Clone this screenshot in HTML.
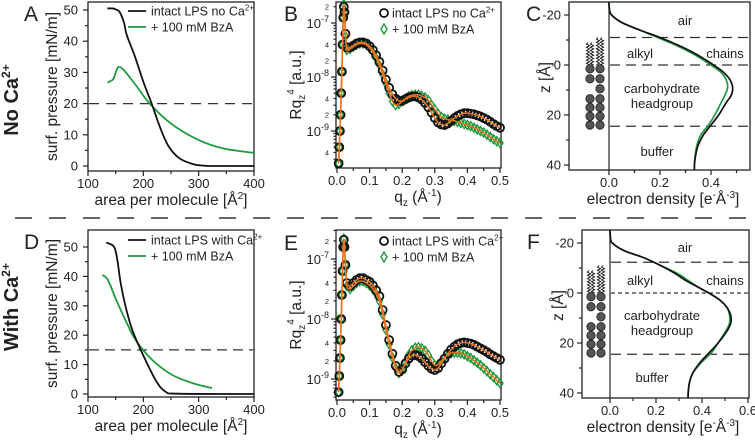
<!DOCTYPE html>
<html><head><meta charset="utf-8">
<style>
html,body{margin:0;padding:0;background:#fff;}
svg{display:block;font-family:"Liberation Sans",Arial,sans-serif;}
</style></head>
<body>
<svg id="fig" width="755" height="442" viewBox="0 0 755 442" xmlns="http://www.w3.org/2000/svg"></svg>
<script>
// ---------- Data ----------
// Panel A isotherms
const aAreaBlack=[135,145,150,157,165,170,185,200,215,230,245,265,290,310,330,400];
const aPiBlack=[50.5,50.5,50.2,49.4,46,42,35,27,20,12.5,6.5,2.5,0.6,0.1,0,0];
const aAreaGreen=[136,138,146,151,156,166,186,212,250,300,345,400];
const aPiGreen=[26.6,27.0,27.9,30.5,31.8,30.5,26,19.9,13.6,8.3,5.6,4.2];
const aDashed=[20];
// Panel D isotherms
const dAreaBlack=[133,147,153,159,168,180,198,222,240,264,400];
const dPiBlack=[51.5,50.1,45.6,37.8,29.7,21.8,13.9,4.8,0.8,0.1,0];
const dAreaGreen=[126,136,151,168,186,216,252,289,324];
const dPiGreen=[40.5,38.8,32,25,18.4,11.6,6.5,3.7,2];
const dDashed=[15];
// Reflectivity (log10 of Rq^4)
const qVals=[0.005,0.007,0.009,0.011,0.013,0.015,0.017,0.019,0.021,0.023,0.026,
0.03,0.04,0.05,0.06,0.07,0.08,0.09,0.10,0.11,0.12,0.13,0.14,0.15,0.16,0.17,0.18,0.19,0.20,
0.21,0.22,0.23,0.24,0.25,0.26,0.27,0.28,0.29,0.30,0.31,0.32,0.33,0.34,0.35,0.36,0.37,0.38,0.39,0.40,
0.41,0.42,0.43,0.44,0.45,0.46,0.47,0.48,0.49,0.50];
const bBlack=[-9.6,-9.3,-9.0,-8.7,-8.3,-7.9,-7.4,-6.9,-6.7,-6.8,-7.2,
-7.45,-7.45,-7.42,-7.38,-7.36,-7.36,-7.38,-7.43,
-7.5,-7.6,-7.72,-7.88,-8.05,-8.2,-8.32,-8.4,-8.44,-8.44,
-8.41,-8.38,-8.36,-8.36,-8.38,-8.42,-8.48,-8.56,-8.66,-8.76,
-8.84,-8.88,-8.89,-8.86,-8.81,-8.76,-8.72,-8.69,-8.67,-8.67,
-8.68,-8.69,-8.71,-8.73,-8.76,-8.79,-8.83,-8.87,-8.91,-8.94];
const bGreen=[-9.6,-9.3,-9.0,-8.7,-8.3,-7.9,-7.4,-6.9,-6.65,-6.8,-7.25,
-7.5,-7.48,-7.44,-7.4,-7.38,-7.38,-7.4,-7.46,
-7.54,-7.65,-7.78,-7.95,-8.12,-8.3,-8.45,-8.52,-8.5,-8.45,
-8.4,-8.36,-8.34,-8.33,-8.33,-8.35,-8.38,-8.43,-8.52,-8.6,
-8.68,-8.74,-8.77,-8.79,-8.8,-8.81,-8.83,-8.85,-8.87,-8.89,
-8.91,-8.94,-8.97,-9.0,-9.03,-9.07,-9.11,-9.15,-9.19,-9.22];
const eBlack=[-9.22,-8.95,-8.65,-8.35,-8.0,-7.6,-7.2,-6.8,-6.68,-6.8,-7.1,
-7.4,-7.45,-7.4,-7.35,-7.32,-7.32,-7.35,-7.38,
-7.44,-7.52,-7.62,-7.85,-8.1,-8.35,-8.58,-8.78,-8.88,-8.84,
-8.74,-8.66,-8.61,-8.6,-8.62,-8.66,-8.72,-8.78,-8.83,-8.85,
-8.82,-8.74,-8.66,-8.58,-8.51,-8.46,-8.42,-8.4,-8.39,-8.4,
-8.41,-8.43,-8.46,-8.49,-8.52,-8.55,-8.59,-8.62,-8.65,-8.68];
const eGreen=[-9.22,-8.95,-8.65,-8.35,-8.0,-7.6,-7.2,-6.8,-6.66,-6.8,-7.1,
-7.45,-7.5,-7.45,-7.4,-7.37,-7.37,-7.4,-7.44,
-7.5,-7.58,-7.7,-7.92,-8.18,-8.42,-8.64,-8.82,-8.9,-8.86,
-8.72,-8.6,-8.52,-8.48,-8.47,-8.49,-8.53,-8.6,-8.7,-8.77,
-8.76,-8.7,-8.64,-8.6,-8.57,-8.56,-8.56,-8.57,-8.59,-8.62,
-8.65,-8.69,-8.73,-8.77,-8.82,-8.87,-8.92,-8.97,-9.02,-9.07];
// Electron density profiles
const zVals=[-25,-22,-20,-17,-14,-11,-8,-5,-2,0,3,6,9,12,15,20,24,28,32,36,40,42];
const cBlack=[0,0.002,0.01,0.05,0.12,0.2,0.27,0.33,0.38,0.41,0.45,0.475,0.485,0.48,0.46,0.43,0.40,0.37,0.35,0.34,0.335,0.335];
const cGreen=[0,0.002,0.01,0.05,0.12,0.19,0.26,0.32,0.37,0.40,0.44,0.46,0.465,0.455,0.44,0.415,0.39,0.36,0.345,0.338,0.335,0.335];
const fBlack=[0,0.002,0.01,0.06,0.15,0.22,0.28,0.33,0.39,0.43,0.48,0.51,0.525,0.525,0.51,0.47,0.43,0.39,0.36,0.345,0.34,0.34];
const fGreen=[0,0.002,0.01,0.06,0.15,0.22,0.29,0.34,0.39,0.43,0.48,0.51,0.52,0.52,0.505,0.47,0.44,0.395,0.36,0.345,0.34,0.34];
const cBoundaries=[-11,0,24.5];
const fBoundaries=[-12.3,0,24.5];
const isoXTicks=[100,200,300,400];
const isoYTicks=[0,10,20,30,40,50];
const qTicks=[0.0,0.1,0.2,0.3,0.4,0.5];
const qTickLabels=["0.0","0.1","0.2","0.3","0.4","0.5"];
const zTicks=[-20,0,20,40];
const cXTicks=[0.0,0.2,0.4];
const fXTicks=[0.0,0.2,0.4,0.6];

// ---------- helpers ----------
const NS="http://www.w3.org/2000/svg";
const svg=document.getElementById('fig');
const BLK="#111", GRN="#1f9a3f", ORG="#e8731c";
function mk(tag,attrs,name,parent){
  const el=document.createElementNS(NS,tag);
  for(const k in attrs) el.setAttribute(k,attrs[k]);
  
  
  (parent||svg).appendChild(el);
  return el;
}
function txt(x,y,s,name,opt){
  opt=opt||{};
  const t=mk('text',{x:x,y:y,'font-size':opt.fs||13,fill:opt.fill||'#222','text-anchor':opt.anchor||'start','font-weight':opt.fw||'normal'},name);
  if(opt.rot) t.setAttribute('transform','rotate('+opt.rot+' '+x+' '+y+')');
  if(opt.html) t.innerHTML=s; else t.textContent=s;
  return t;
}
function smooth(pts){
  if(pts.length<2) return '';
  let d='M'+pts[0][0].toFixed(2)+','+pts[0][1].toFixed(2);
  for(let i=0;i<pts.length-1;i++){
    const p0=pts[i-1]||pts[i],p1=pts[i],p2=pts[i+1],p3=pts[i+2]||p2;
    const c1=[p1[0]+(p2[0]-p0[0])/6,p1[1]+(p2[1]-p0[1])/6];
    const c2=[p2[0]-(p3[0]-p1[0])/6,p2[1]-(p3[1]-p1[1])/6];
    d+=' C'+c1[0].toFixed(2)+','+c1[1].toFixed(2)+' '+c2[0].toFixed(2)+','+c2[1].toFixed(2)+' '+p2[0].toFixed(2)+','+p2[1].toFixed(2);
  }
  return d;
}
function frame(x0,y0,x1,y1,name){
  mk('rect',{x:x0,y:y0,width:x1-x0,height:y1-y0,fill:'none',stroke:'#222','stroke-width':1.3},name);
}
function hline(x0,x1,y,dash,name,w){
  mk('line',{x1:x0,x2:x1,y1:y,y2:y,stroke:'#333','stroke-width':w||1.4,'stroke-dasharray':dash},name);
}
function vtick(x,y,len,name){ mk('line',{x1:x,x2:x,y1:y,y2:y+len,stroke:'#222','stroke-width':1.2},name); }
function htick(x,y,len,name){ mk('line',{x1:x,x2:x-len,y1:y,y2:y,stroke:'#222','stroke-width':1.2},name); }

// ---------- Isotherm panels (A, D) ----------
function isoPanel(P){
  const X=v=>88+(v-100)*166/300;
  const Y=v=>P.y0-v*P.sy;
  frame(88,P.top,254,P.bot,P.id+'-plot-frame');
  isoXTicks.forEach(v=>{vtick(X(v),P.bot,5,P.id+'-x-tick');txt(X(v),P.bot+17,String(v),P.id+'-x-tick-label',{anchor:'middle'});});
  [150,250,350].forEach(v=>vtick(X(v),P.bot,3,P.id+'-x-minor-tick'));
  isoYTicks.forEach(v=>{htick(88,Y(v),5,P.id+'-y-tick');txt(78,Y(v)+4.5,String(v),P.id+'-y-tick-label',{anchor:'end'});});
  [5,15,25,35,45].forEach(v=>htick(88,Y(v),3,P.id+'-y-minor-tick'));
  P.dashed.forEach(v=>hline(89,253,Y(v),P.dash,P.id+'-reference-pressure-line',1.3));
  mk('path',{d:smooth(P.gx.map((v,i)=>[X(v),Y(P.gy[i])])),fill:'none',stroke:GRN,'stroke-width':1.8},P.id+'-bza-isotherm');
  mk('path',{d:smooth(P.bx.map((v,i)=>[X(v),Y(P.by[i])])),fill:'none',stroke:BLK,'stroke-width':1.8},P.id+'-lps-isotherm');
  txt(57,(P.top+P.bot)/2,'surf. pressure [mN/m]',P.id+'-y-axis-title',{fs:15.5,anchor:'middle',rot:-90});
  txt(171,P.bot+34,'area per molecule [Å<tspan dy="-6" font-size="10">2</tspan><tspan dy="6">]</tspan>',P.id+'-x-axis-title',{fs:15.5,anchor:'middle',html:true});
  mk('line',{x1:128,x2:146,y1:P.leg,y2:P.leg,stroke:BLK,'stroke-width':1.8},P.id+'-legend-line-lps');
  txt(151,P.leg+4.5,P.legText,P.id+'-legend-label-lps',{fs:12.5,html:true});
  mk('line',{x1:128,x2:146,y1:P.leg+16,y2:P.leg+16,stroke:GRN,'stroke-width':1.8},P.id+'-legend-line-bza');
  txt(151,P.leg+20.5,'+ 100 mM BzA',P.id+'-legend-label-bza',{fs:12.5});
}
isoPanel({id:'panel-a',top:2,bot:171,y0:166,sy:3.12,bx:aAreaBlack,by:aPiBlack,gx:aAreaGreen,gy:aPiGreen,dashed:aDashed,dash:'10 7',leg:11,
  legText:'intact LPS no Ca<tspan dy="-5" font-size="8">2+</tspan>'});
isoPanel({id:'panel-d',top:230,bot:397,y0:394,sy:2.94,bx:dAreaBlack,by:dPiBlack,gx:dAreaGreen,gy:dPiGreen,dashed:dDashed,dash:'10 6',leg:240,
  legText:'intact LPS with Ca<tspan dy="-5" font-size="8">2+</tspan>'});

// ---------- Reflectivity panels (B, E) ----------
function reflPanel(P){
  const X=q=>337+q*326;
  const Y=l=>P.y7-(l+7)*P.dec;
  frame(336,P.top,501,P.bot,P.id+'-plot-frame');
  qTicks.forEach((v,i)=>{vtick(X(v),P.bot,5,P.id+'-x-tick');txt(X(v),P.bot+17,qTickLabels[i],P.id+'-x-tick-label',{anchor:'middle'});});
  [0.05,0.15,0.25,0.35,0.45].forEach(v=>vtick(X(v),P.bot,3,P.id+'-x-minor-tick'));
  for(let e=-10;e<=-6;e++){
    for(let m=1;m<10;m++){
      const l=e+Math.log10(m); const y=Y(l);
      if(y<P.top||y>P.bot) continue;
      htick(336,y,m===1?5:2.5,P.id+'-y-tick');
      if(m===1) txt(329,y+5,'10<tspan dy="-6" font-size="9">'+e+'</tspan>',P.id+'-y-tick-label',{anchor:'end',html:true});
      else if(m===2||m===4) txt(329,y+3,String(m),P.id+'-y-minor-tick-label',{anchor:'end',fs:7.5});
    }
  }
  const gPts=qVals.map((q,i)=>[X(q),Y(P.g[i])]);
  const bPts=qVals.map((q,i)=>[X(q),Y(P.b[i])]);
  gPts.forEach(p=>{mk('path',{d:'M'+p[0]+','+(p[1]-4.5)+' l3,4.5 l-3,4.5 l-3,-4.5 z',fill:'none',stroke:GRN,'stroke-width':1.4},P.id+'-bza-data-point');});
  bPts.forEach(p=>{mk('circle',{cx:p[0],cy:p[1],r:4,fill:'none',stroke:BLK,'stroke-width':1.8},P.id+'-lps-data-point');});
  mk('path',{d:smooth(gPts),fill:'none',stroke:ORG,'stroke-width':1.5},P.id+'-bza-fit-line');
  mk('path',{d:smooth(bPts),fill:'none',stroke:ORG,'stroke-width':1.5},P.id+'-lps-fit-line');
  txt(301,(P.top+P.bot)/2,'Rq<tspan dy="4" font-size="10">z</tspan><tspan dy="-11" font-size="10">4</tspan><tspan dy="7"> [a.u.]</tspan>',P.id+'-y-axis-title',{fs:15.5,anchor:'middle',rot:-90,html:true});
  txt(418,P.bot+34,'q<tspan dy="4" font-size="10">z</tspan><tspan dy="-4"> (Å</tspan><tspan dy="-6" font-size="10">-1</tspan><tspan dy="6">)</tspan>',P.id+'-x-axis-title',{fs:15.5,anchor:'middle',html:true});
  mk('circle',{cx:384,cy:P.leg,r:4,fill:'none',stroke:BLK,'stroke-width':1.8},P.id+'-legend-marker-lps');
  txt(392,P.leg+4.5,P.legText,P.id+'-legend-label-lps',{fs:12.5,html:true});
  mk('path',{d:'M384,'+(P.leg+16-5)+' l3,5 l-3,5 l-3,-5 z',fill:'none',stroke:GRN,'stroke-width':1.4},P.id+'-legend-marker-bza');
  txt(392,P.leg+20.5,'+ 100 mM BzA',P.id+'-legend-label-bza',{fs:12.5});
}
reflPanel({id:'panel-b',top:2,bot:168,y7:23,dec:54,b:bBlack,g:bGreen,leg:13,legText:'intact LPS no Ca<tspan dy="-5" font-size="8">2+</tspan>'});
reflPanel({id:'panel-e',top:230,bot:400,y7:259,dec:60,b:eBlack,g:eGreen,leg:241,legText:'intact LPS with Ca<tspan dy="-5" font-size="8">2+</tspan>'});

// ---------- Density panels (C, F) ----------
function densPanel(P){
  const X=v=>P.x0+v*P.sx;
  const Y=z=>P.z0+z*2.5;
  frame(P.left,P.top,P.right,P.bot,P.id+'-plot-frame');
  mk('line',{x1:X(0),x2:X(0),y1:P.top,y2:P.bot,stroke:'#222','stroke-width':1.2},P.id+'-zero-density-line');
  P.xt.forEach(v=>{vtick(X(v),P.bot,5,P.id+'-x-tick');txt(X(v),P.bot+17,v.toFixed(1),P.id+'-x-tick-label',{anchor:'middle'});});
  P.xt.forEach(v=>{const m=X(v+0.1); if(m<P.right-2) vtick(m,P.bot,3,P.id+'-x-minor-tick');});
  zTicks.forEach(v=>{htick(P.left,Y(v),5,P.id+'-y-tick');txt(P.left-8,Y(v)+4.5,String(v),P.id+'-y-tick-label',{anchor:'end'});});
  [-10,10,30].forEach(v=>htick(P.left,Y(v),3,P.id+'-y-minor-tick'));
  P.bounds.forEach((z,i)=>hline(X(0)+1,P.right,Y(z),(z===0&&P.short)?'4 3':'10 6',P.id+'-region-boundary',1.3));
  mk('path',{d:smooth(zVals.map((z,i)=>[X(P.g[i]),Y(z)])),fill:'none',stroke:GRN,'stroke-width':1.7},P.id+'-bza-density-profile');
  mk('path',{d:smooth(zVals.map((z,i)=>[X(P.b[i]),Y(z)])),fill:'none',stroke:BLK,'stroke-width':1.7},P.id+'-lps-density-profile');
  // cartoon of LPS molecule
  [P.cx1,P.cx2].forEach((cx,ci)=>{
    const top=ci===0?Y(-9):Y(-11);
    [-2,2].forEach(o=>{
      let d='M'+(cx+o)+','+top; let y=top; let s=1;
      while(y<Y(-0.5)){y+=1.6; s=-s; d+=' L'+(cx+o+s*1.6)+','+y;}
      mk('path',{d:d,fill:'none',stroke:'#111','stroke-width':0.9},P.id+'-cartoon-alkyl-chain');
    });
    [1.5,5.5,9.5,13.5,17,20.5,24].forEach((z,ri)=>{
      if(ci===0&&ri===2) return;
      mk('circle',{cx:cx,cy:Y(z),r:4.2,fill:'#555',stroke:'#222','stroke-width':0.8},P.id+'-cartoon-sugar-unit');
    });
  });
  txt(P.left-19,Y(5),'z [Å]',P.id+'-y-axis-title',{fs:15.5,anchor:'middle',rot:-90});
  txt(663,P.bot+34,'electron density [e<tspan dy="-6" font-size="10">-</tspan><tspan dy="6">Å</tspan><tspan dy="-6" font-size="10">-3</tspan><tspan dy="6">]</tspan>',P.id+'-x-axis-title',{fs:15.5,anchor:'middle',html:true});
  txt(685,P.lab[0],'air',P.id+'-region-label-air',{anchor:'middle'});
  txt(640,P.lab[1],'alkyl',P.id+'-region-label-alkyl',{anchor:'middle'});
  txt(725,P.lab[1],'chains',P.id+'-region-label-chains',{anchor:'middle'});
  txt(662,P.lab[2],'carbohydrate',P.id+'-region-label-carbohydrate',{anchor:'middle'});
  txt(662,P.lab[2]+15,'headgroup',P.id+'-region-label-headgroup',{anchor:'middle'});
  txt(P.lab[4],P.lab[3],'buffer',P.id+'-region-label-buffer',{anchor:'middle'});
}
densPanel({id:'panel-c',left:569,right:750,top:2,bot:170,x0:609,sx:255,z0:65,xt:cXTicks,bounds:cBoundaries,b:cBlack,g:cGreen,short:false,cx1:590,cx2:600,lab:[25,58,93,156,657]});
densPanel({id:'panel-f',left:582,right:749,top:230,bot:398,x0:610,sx:230,z0:293,xt:fXTicks,bounds:fBoundaries,b:fBlack,g:fGreen,short:true,cx1:591,cx2:601,lab:[252,285,320,382,652]});

// ---------- Panel letters & row labels ----------
[['A',24,21],['B',284,21],['C',526,21],['D',24,249],['E',284,250],['F',527,249]].forEach(p=>{
  txt(p[1],p[2],p[0],'panel-letter-'+p[0].toLowerCase(),{fs:21});
});
txt(18,100,'No Ca<tspan dy="-8" font-size="12">2+</tspan>','row-label-no-calcium',{fs:20,fw:'bold',anchor:'middle',rot:-90,html:true});
txt(18,307,'With Ca<tspan dy="-8" font-size="12">2+</tspan>','row-label-with-calcium',{fs:20,fw:'bold',anchor:'middle',rot:-90,html:true});
hline(15,755,218,'17 17','row-separator',1.6);
</script>
</body></html>
